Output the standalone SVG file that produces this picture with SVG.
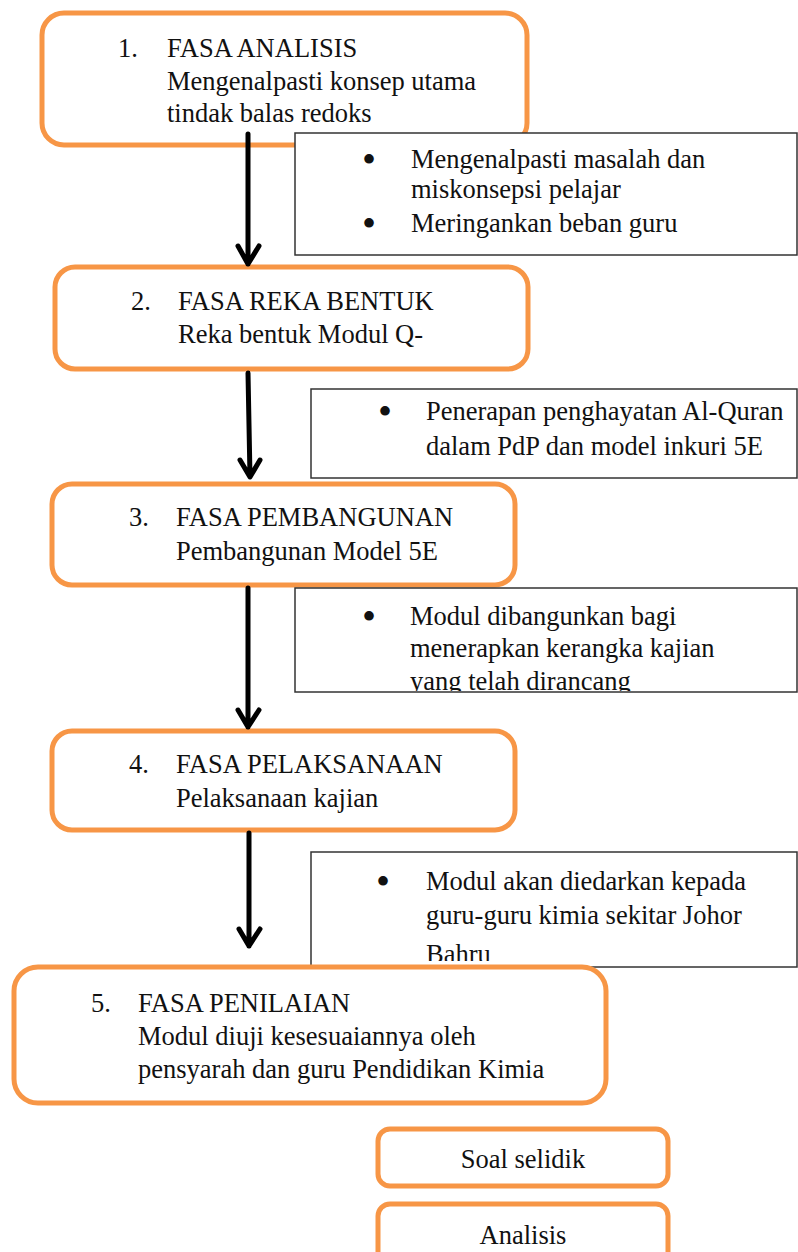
<svg xmlns="http://www.w3.org/2000/svg" width="798" height="1252" viewBox="0 0 798 1252">
<style>
.phase{fill:#fff;stroke:#F79646;stroke-width:5}
.note{fill:#fff;stroke:#333;stroke-width:1.5}
.t{font-family:'Liberation Serif','Times New Roman',Times,serif;font-size:26.5px;fill:#111}
.b{font-family:'Liberation Serif','Times New Roman',Times,serif;font-size:40px;fill:#111}
.arrow{fill:none;stroke:#000;stroke-width:5;stroke-linecap:round;stroke-linejoin:round}
</style>
<defs>
<clipPath id="c3"><rect x="296" y="589" width="500" height="102"/></clipPath>
<clipPath id="c4"><rect x="313" y="853" width="484" height="108"/></clipPath>
</defs>
<g id="phase1" class="t">
<rect class="phase" x="42" y="13" width="485" height="132" rx="22"/>
<text x="118" y="57">1.</text>
<text x="167" y="57">FASA ANALISIS</text>
<text x="167" y="90">Mengenalpasti konsep utama</text>
<text x="167" y="122">tindak balas redoks</text>
</g>
<g id="note1" class="t">
<rect class="note" x="295" y="133" width="502" height="122"/>
<text class="b" x="362" y="173">•</text>
<text x="411" y="168">Mengenalpasti masalah dan</text>
<text x="411" y="198">miskonsepsi pelajar</text>
<text class="b" x="362" y="237">•</text>
<text x="411" y="232">Meringankan beban guru</text>
</g>
<g id="phase2" class="t">
<rect class="phase" x="55" y="267" width="473" height="102" rx="20"/>
<text x="131" y="310">2.</text>
<text x="178" y="310">FASA REKA BENTUK</text>
<text x="178" y="343">Reka bentuk Modul Q-</text>
</g>
<g id="note2" class="t">
<rect class="note" x="311" y="389" width="486" height="89"/>
<text class="b" x="378" y="425">•</text>
<text x="426" y="420">Penerapan penghayatan Al-Quran</text>
<text x="426" y="455">dalam PdP dan model inkuri 5E</text>
</g>
<g id="phase3" class="t">
<rect class="phase" x="52" y="484" width="463" height="101" rx="20"/>
<text x="129" y="526">3.</text>
<text x="176" y="526">FASA PEMBANGUNAN</text>
<text x="176" y="560">Pembangunan Model 5E</text>
</g>
<g id="note3" class="t">
<rect class="note" x="295" y="588" width="502" height="104"/>
<g clip-path="url(#c3)">
<text class="b" x="362" y="630">•</text>
<text x="410" y="625">Modul dibangunkan bagi</text>
<text x="410" y="657">menerapkan kerangka kajian</text>
<text x="410" y="690">yang telah dirancang</text>
</g>
</g>
<g id="phase4" class="t">
<rect class="phase" x="52" y="731" width="463" height="99" rx="20"/>
<text x="129" y="773">4.</text>
<text x="176" y="773">FASA PELAKSANAAN</text>
<text x="176" y="807">Pelaksanaan kajian</text>
</g>
<g id="note4" class="t">
<rect class="note" x="311" y="852" width="486" height="115"/>
<g clip-path="url(#c4)">
<text class="b" x="376" y="895">•</text>
<text x="426" y="890">Modul akan diedarkan kepada</text>
<text x="426" y="924">guru-guru kimia sekitar Johor</text>
<text x="426" y="963">Bahru</text>
</g>
</g>
<g id="phase5" class="t">
<rect class="phase" x="14" y="967" width="592" height="136" rx="24"/>
<text x="91" y="1012">5.</text>
<text x="138" y="1012">FASA PENILAIAN</text>
<text x="138" y="1045">Modul diuji kesesuaiannya oleh</text>
<text x="138" y="1078">pensyarah dan guru Pendidikan Kimia</text>
</g>
<g id="soal" class="t">
<rect class="phase" x="378" y="1129" width="290" height="57" rx="12"/>
<text x="523" y="1168" text-anchor="middle">Soal selidik</text>
</g>
<g id="analisis" class="t">
<rect class="phase" x="378" y="1204" width="290" height="70" rx="12"/>
<text x="523" y="1244" text-anchor="middle">Analisis</text>
</g>
<g id="connectors">
<path class="arrow" d="M248 134 L248 264 M238 246 L248 264 L259 246"/>
<path class="arrow" d="M248 373 L250 477 M240 460 L250 477 L260 460"/>
<path class="arrow" d="M248 588 L248 727 M238 710 L248 727 L259 710"/>
<path class="arrow" d="M249 833 L249 946 M239 929 L249 946 L260 929"/>
</g>
</svg>
